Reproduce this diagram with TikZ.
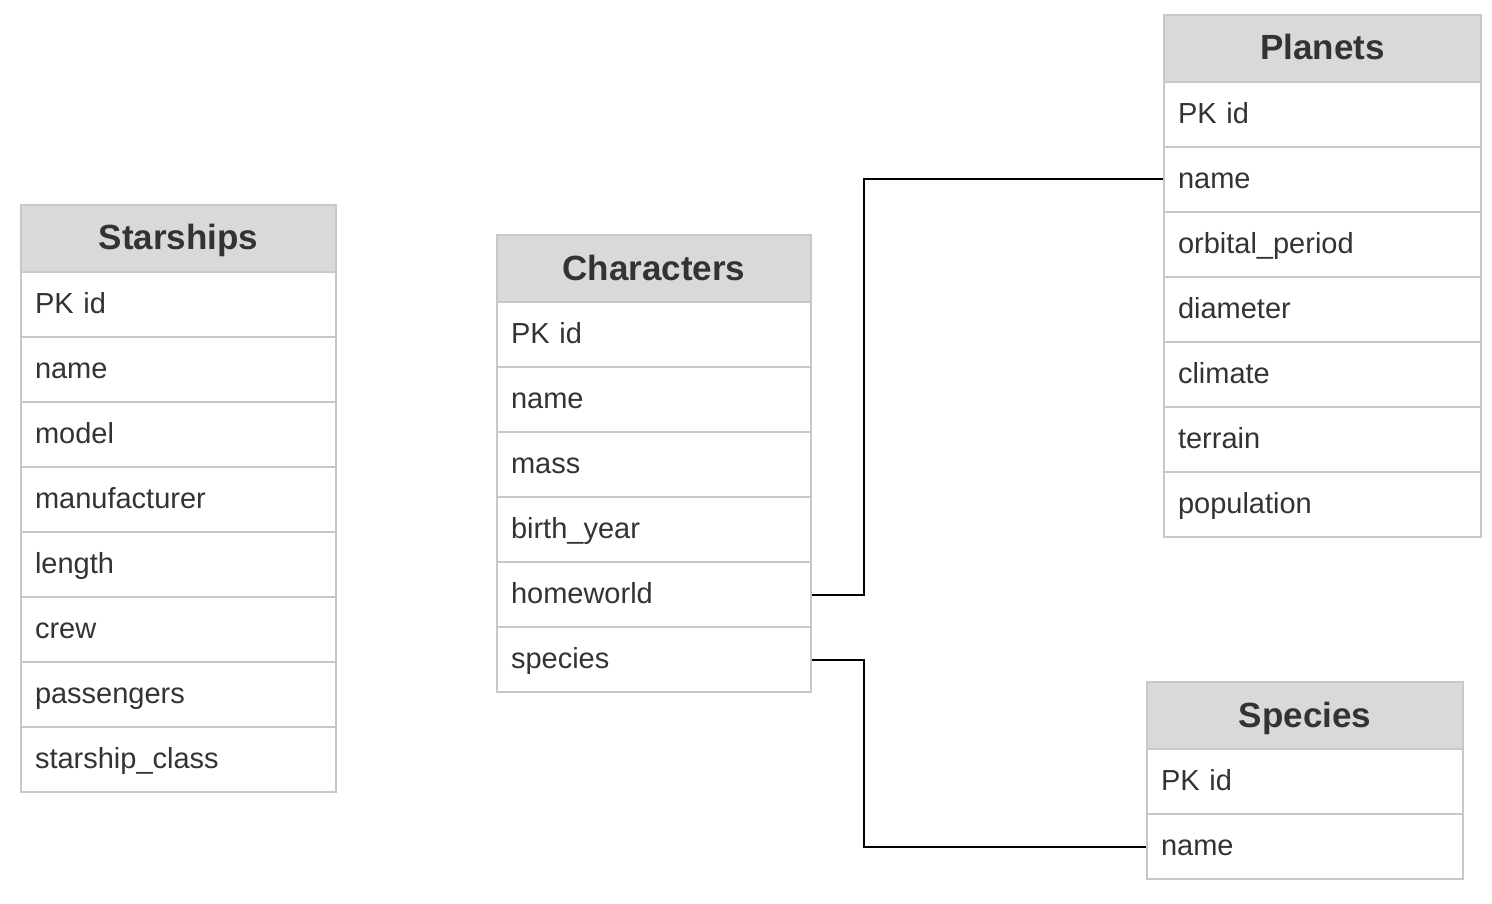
\documentclass[tikz,border=0pt]{standalone}
\usepackage{fontspec}
\setmainfont{Liberation Sans}
\definecolor{bordc}{HTML}{C8C8C8}
\definecolor{hdrc}{HTML}{D9D9D9}
\definecolor{txtc}{HTML}{333333}
\tikzset{
  hdr/.style={draw=bordc, line width=2pt, fill=hdrc, anchor=north west,
    minimum height=67pt, inner xsep=0pt, inner ysep=0pt, text=txtc,
    font=\fontsize{35}{40}\selectfont\bfseries, text height=23pt, text depth=0pt},
  rowbox/.style={draw=bordc, line width=2pt, fill=white, anchor=north west,
    minimum height=65pt, inner xsep=14pt, inner ysep=0pt, text=txtc, align=left,
    font=\fontsize{29}{34}\selectfont, text height=18.5pt, text depth=0pt},
  link/.style={draw=black, line width=2pt}
}
\newcommand{\ertable}[6]{%
  \node[hdr, minimum width=#4pt] (#1h) at (#2,#3) {#5};
  \foreach \f [count=\i] in {#6} {
    \node[rowbox, text width=#4pt-28pt] (#1\i) at (#2,{#3+67+(\i-1)*65}) {\f};
  }
}
\begin{document}
\begin{tikzpicture}[x=1pt,y=-1pt]
\useasboundingbox (0,0) rectangle (1492,904);
\ertable{s}{20}{204}{315}{Starships}{PK id,name,model,manufacturer,length,crew,passengers,starship\_class}
\ertable{c}{496}{234}{314}{Characters}{PK id,name,mass,birth\_year,homeworld,species}
\ertable{p}{1163}{14}{317}{Planets}{PK id,name,orbital\_period,diameter,climate,terrain,population}
\ertable{e}{1146}{681}{316}{Species}{PK id,name}
\coordinate (j) at (864,0);
\draw[link] (c5.east) -- (c5.east -| j) |- (p2.west);
\draw[link] (c6.east) -- (c6.east -| j) |- (e2.west);
\end{tikzpicture}
\end{document}
